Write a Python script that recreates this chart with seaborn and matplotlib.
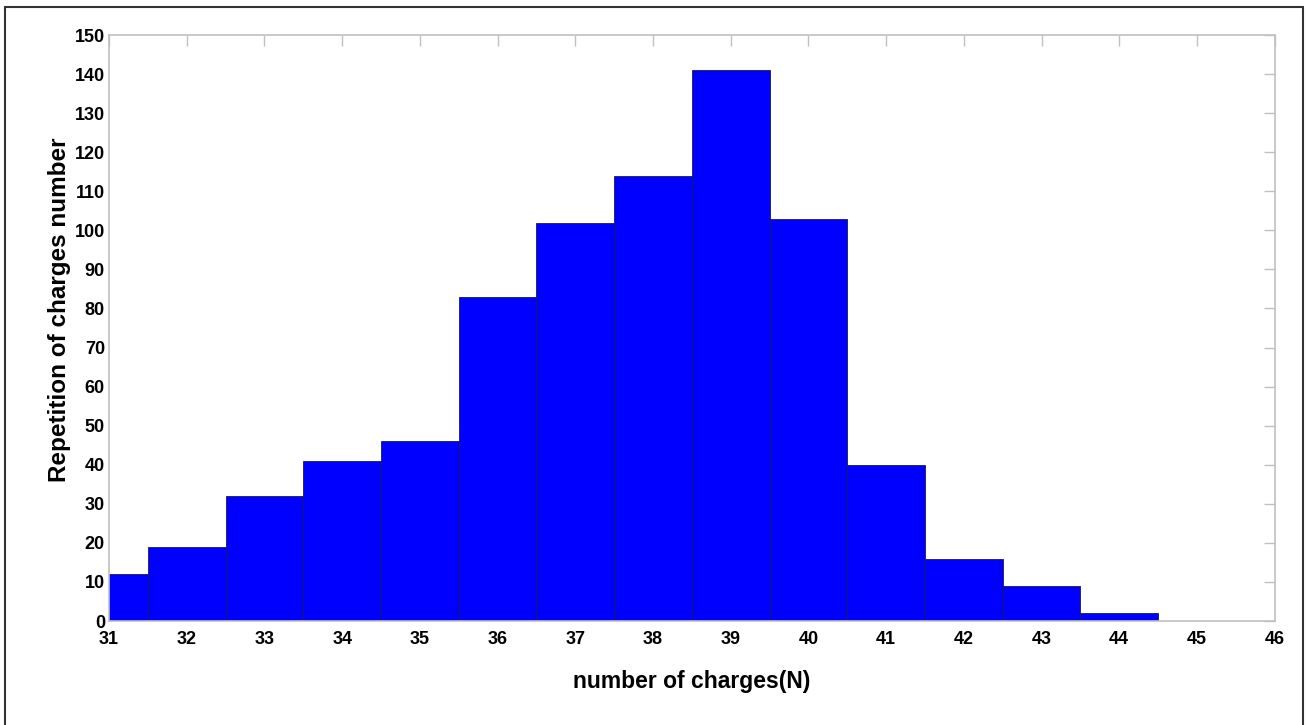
import numpy as np
import pandas as pd
import seaborn as sns
import matplotlib.pyplot as plt
from matplotlib.lines import Line2D

# bin centres (number of charges) and their counts
charges = [31, 32, 33, 34, 35, 36, 37, 38, 39, 40, 41, 42, 43, 44]
counts = [12, 19, 32, 41, 46, 83, 102, 114, 141, 103, 40, 16, 9, 2]

x_ticks = list(range(31, 47))
y_ticks = list(range(0, 151, 10))

df = pd.DataFrame({'charges': charges, 'count': counts})

sns.set_style('white')
plt.rcParams['font.family'] = ['Liberation Sans', 'DejaVu Sans']
plt.rcParams['font.weight'] = 'bold'
plt.rcParams['text.color'] = 'black'
plt.rcParams['axes.labelcolor'] = 'black'

fig = plt.figure(figsize=(13.06, 7.25), dpi=100)
ax = fig.add_axes([0.0835, 0.1434, 0.8925, 0.8083])

sns.histplot(
    data=df,
    x='charges',
    weights='count',
    binwidth=1,
    binrange=(30.5, 44.5),
    color='#0000ff',
    edgecolor='#1a1a4d',
    linewidth=0.6,
    alpha=1.0,
    ax=ax
)

ax.set_xlim(31, 46)
ax.set_ylim(0, 150)
ax.set_xticks(x_ticks)
ax.set_yticks(y_ticks)
ax.tick_params(axis='both', direction='in', length=8, width=1.0, color='#c0c0c0',
               labelcolor='black', labelsize=13, top=True, right=True,
               labeltop=False, labelright=False)
ax.tick_params(axis='x', pad=7)
ax.tick_params(axis='y', pad=3)
for lab in ax.get_xticklabels() + ax.get_yticklabels():
    lab.set_fontweight('bold')

for side in ['left', 'right', 'top', 'bottom']:
    ax.spines[side].set_visible(True)
    ax.spines[side].set_color('#c0c0c0')
    ax.spines[side].set_linewidth(1.2)

ax.set_xlabel('number of charges(N)', fontsize=16.5, fontweight='bold', labelpad=16)
ax.set_ylabel('Repetition of charges number', fontsize=17.5, fontweight='bold')
ax.yaxis.set_label_coords(-0.033, 0.531)

# outer frame around the figure
for xs, ys in [([5, 5], [0, 718]), ([5, 1303], [718, 718]), ([1303, 1303], [718, 0])]:
    fig.add_artist(Line2D(np.array(xs) / 1306, np.array(ys) / 725,
                          color='#333333', linewidth=1.5, transform=fig.transFigure))

fig.savefig('out.png', dpi=100)
